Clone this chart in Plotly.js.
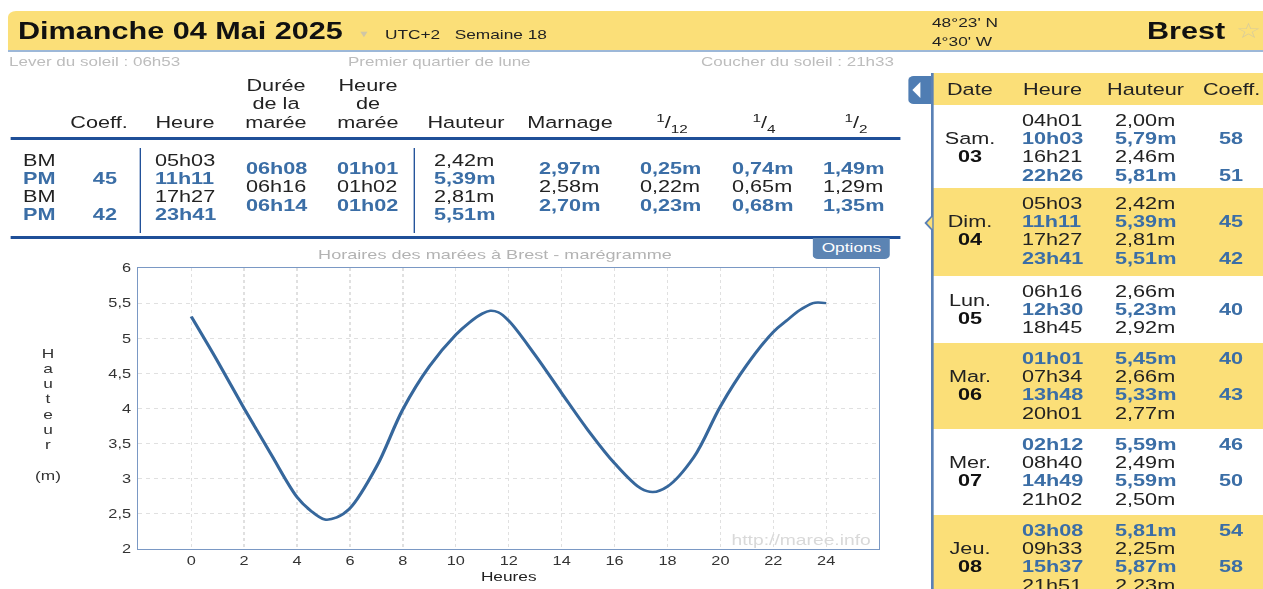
<!DOCTYPE html>
<html><head><meta charset="utf-8">
<script src="https://cdn.plot.ly/plotly-3.0.1.min.js"></script>
<style>
html,body{margin:0;padding:0;background:#fff;width:1263px;height:589px;overflow:hidden;font-family:"Liberation Sans",Arial,sans-serif;color:#222;}
#wrap{position:absolute;left:0;top:0;height:589px;transform-origin:0 0;overflow:visible;}
.a{position:absolute;white-space:nowrap;}
</style></head>
<body>
<div id="wrap"><div id="page"></div><div id="chart" style="position:absolute;top:240px;height:349px;"></div><div id="over"></div></div>
<script>
// ---------- DATA ----------
const tideHours   = [0, 1, 2, 3, 4, 4.5, 5.05, 5.5, 6, 7, 8, 9, 10, 10.5, 11, 11.3, 11.6, 12, 13, 14, 15, 16, 17, 17.45, 18, 19, 20, 21, 22, 22.5, 23, 23.5, 23.68, 24];
const tideHeights = [5.31, 4.67, 4.00, 3.36, 2.74, 2.55, 2.42, 2.45, 2.58, 3.17, 3.99, 4.60, 5.05, 5.22, 5.35, 5.39, 5.37, 5.25, 4.76, 4.22, 3.69, 3.22, 2.86, 2.81, 2.89, 3.31, 4.03, 4.62, 5.09, 5.25, 5.40, 5.50, 5.51, 5.50];
const xTicks = [0, 2, 4, 6, 8, 10, 12, 14, 16, 18, 20, 22, 24];
const yTitleLetters = ['H', 'a', 'u', 't', 'e', 'u', 'r', '', '(m)'];

const tideType   = ['BM', 'PM', 'BM', 'PM'];
const tideCoeff  = ['', '45', '', '42'];
const tideTime   = ['05h03', '11h11', '17h27', '23h41'];
const tideHeight = ['2,42m', '5,39m', '2,81m', '5,51m'];
const durations  = ['06h08', '06h16', '06h14'];
const heureMaree = ['01h01', '01h02', '01h02'];
const marnage    = ['2,97m', '2,58m', '2,70m'];
const twelfth    = ['0,25m', '0,22m', '0,23m'];
const quarter    = ['0,74m', '0,65m', '0,68m'];
const half       = ['1,49m', '1,29m', '1,35m'];

const sideDays    = ['Sam.', 'Dim.', 'Lun.', 'Mar.', 'Mer.', 'Jeu.'];
const sideDates   = ['03', '04', '05', '06', '07', '08'];
const sideTimes   = [['04h01','10h03','16h21','22h26'], ['05h03','11h11','17h27','23h41'], ['06h16','12h30','18h45'], ['01h01','07h34','13h48','20h01'], ['02h12','08h40','14h49','21h02'], ['03h08','09h33','15h37','21h51']];
const sideHeights = [['2,00m','5,79m','2,46m','5,81m'], ['2,42m','5,39m','2,81m','5,51m'], ['2,66m','5,23m','2,92m'], ['5,45m','2,66m','5,33m','2,77m'], ['5,59m','2,49m','5,59m','2,50m'], ['5,81m','2,25m','5,87m','2,23m']];
const sideCoeffs  = [['','58','','51'], ['','45','','42'], ['','40',''], ['40','','43',''], ['46','','50',''], ['54','','58','']];
const sideHigh    = [[0,1,0,1], [0,1,0,1], [0,1,0], [1,0,1,0], [1,0,1,0], [1,0,1,0]];

// ---------- LAYOUT HELPERS (the reference is horizontally stretched) ----------
const S = 1.33;
const W = document.getElementById('wrap');
W.style.width = (1263 / S) + 'px';
W.style.transform = 'scaleX(' + S + ')';
const P = document.getElementById('page');
const O = document.getElementById('over');
function box(x, y, w, h, css, html, target){
  let s = '<div class="a" style="left:' + (x / S) + 'px;top:' + y + 'px;';
  if (w !== null) s += 'width:' + (w / S) + 'px;';
  if (h !== null) s += 'height:' + h + 'px;';
  s += (css || '') + '">' + (html || '') + '</div>';
  (target || P).insertAdjacentHTML('beforeend', s);
}
function txt(x, cy, fs, html, css, w, align, target){
  const lh = Math.round(fs * 1.15);
  const top = cy - 0.57 * fs - (lh - fs * 1.15) / 2;
  box(x, top, w === undefined ? null : w, null,
      'font-size:' + fs + 'px;line-height:' + lh + 'px;' + (align ? 'text-align:' + align + ';' : '') + (css || ''), html, target);
}
function column(arr, isBlue, x, cy0, step, fs, w, align){
  arr.forEach((v, i) => {
    if (v === '') return;
    txt(x, cy0 + i * step, fs, v, isBlue(i) ? 'color:#3b6ea6;font-weight:bold;' : 'color:#222;', w, align);
  });
}

// ---------- HEADER ----------
box(8, 11, 1255, 39, 'background:#fbdf78;border-radius:6px 0 0 0;border-bottom:2px solid #9db8d8;');
txt(18, 31, 23, 'Dimanche 04 Mai 2025', 'font-weight:bold;color:#111;');
txt(358, 34, 9, '&#9660;', 'color:#cfc6a6;');
txt(385, 34, 13, 'UTC+2&nbsp;&nbsp;&nbsp;Semaine 18', 'color:#222;');
txt(932, 22, 13, '48°23\' N', 'color:#222;');
txt(932, 41, 13, '4°30\' W', 'color:#222;');
txt(1147, 31, 23, 'Brest', 'font-weight:bold;color:#111;');
txt(1236, 31, 21, '&#9734;', 'color:#d8cc9a;font-family:\'DejaVu Sans\';');

txt(9, 61, 12.8, 'Lever du soleil : 06h53', 'color:#bdbdbd;');
txt(348, 61, 12.8, 'Premier quartier de lune', 'color:#bdbdbd;');
txt(701, 61, 12.8, 'Coucher du soleil : 21h33', 'color:#bdbdbd;');

// ---------- MAIN TABLE ----------
const FS = 16.3;
txt(60, 122, FS, 'Coeff.', '', 78, 'center');
txt(145, 122, FS, 'Heure', '', 80, 'center');
['Durée', 'de la', 'marée'].forEach((t, i) => txt(236, 85 + i * 18.5, FS, t, '', 80, 'center'));
['Heure', 'de', 'marée'].forEach((t, i) => txt(328, 85 + i * 18.5, FS, t, '', 80, 'center'));
txt(422, 122, FS, 'Hauteur', '', 88, 'center');
txt(526, 122, FS, 'Marnage', '', 88, 'center');
txt(642, 118, FS, '<sup style="font-size:11.5px;">1</sup>/<sub style="font-size:11.5px;">12</sub>', '', 60, 'center');
txt(744, 118, FS, '<sup style="font-size:11.5px;">1</sup>/<sub style="font-size:11.5px;">4</sub>', '', 40, 'center');
txt(836, 118, FS, '<sup style="font-size:11.5px;">1</sup>/<sub style="font-size:11.5px;">2</sub>', '', 40, 'center');

box(10, 137, 891, 3, 'background:#1f4f98;');
box(10, 236, 891, 3, 'background:#1f4f98;');
box(139, 148, 1, 85, 'background:#1f4f98;');
box(414, 148, 1, 85, 'background:#1f4f98;');

const isPM = i => tideType[i] === 'PM';
const isEven = i => i % 2 === 0;
column(tideType, isPM, 23, 160, 18, FS);
column(tideCoeff, isPM, 70, 160, 18, FS, 47, 'right');
column(tideTime, isPM, 155, 160, 18, FS);
column(tideHeight, isPM, 434, 160, 18, FS);
column(durations, isEven, 246, 168, 18.5, FS);
column(heureMaree, isEven, 337, 168, 18.5, FS);
column(marnage, isEven, 539, 168, 18.5, FS);
column(twelfth, isEven, 640, 168, 18.5, FS);
column(quarter, isEven, 732, 168, 18.5, FS);
column(half, isEven, 823, 168, 18.5, FS);

// ---------- SIDE PANEL ----------
box(908, 76, 24, 28, 'background:#4f7db3;border-radius:4px 0 0 4px;');
box(913, 82, null, null, 'width:0;height:0;border-top:8px solid transparent;border-bottom:8px solid transparent;border-right:' + (9 / S) + 'px solid #fff;');
box(932, 73, 331, 32, 'background:#fbdf78;');
txt(947, 89, FS, 'Date');
txt(1023, 89, FS, 'Heure');
txt(1107, 89, FS, 'Hauteur');
txt(1203, 89, FS, 'Coeff.');

const blockTops = [105, 188, 276, 343, 429, 515];
const blockBottoms = [188, 276, 343, 429, 515, 600];
sideDays.forEach((d, k) => {
  const top = blockTops[k], h = blockBottoms[k] - top;
  box(932, top, 331, h, 'background:' + (k % 2 === 1 ? '#fbdf78' : '#fff') + ';');
  const n = sideTimes[k].length;
  const cy0 = top + 15.5;
  const dcy = cy0 + (n - 2) / 2 * 18.2;
  txt(935, dcy, FS, d, 'color:#222;', 70, 'center');
  txt(935, dcy + 18.2, FS, '<b>' + sideDates[k] + '</b>', 'color:#111;', 70, 'center');
  const hi = i => sideHigh[k][i] === 1;
  column(sideTimes[k], hi, 1022, cy0, 18.2, FS);
  column(sideHeights[k], hi, 1115, cy0, 18.2, FS);
  column(sideCoeffs[k], hi, 1193, cy0, 18.2, FS, 50, 'right');
});
box(931, 73, 2, 516, 'background:#5a81b6;');
box(925, 216, null, null, 'width:0;height:0;border-top:7px solid transparent;border-bottom:7px solid transparent;border-right:' + (7 / S) + 'px solid #5a81b6;');
box(927.5, 217, null, null, 'width:0;height:0;border-top:6px solid transparent;border-bottom:6px solid transparent;border-right:' + (6 / S) + 'px solid #fbdf78;');

// ---------- OVERLAYS ON CHART (drawn above it) ----------
box(813, 238, 77, 21, 'background:#5c84b3;border-radius:0 0 4px 4px;color:#fff;font-size:13px;line-height:20px;text-align:center;', 'Options', O);
yTitleLetters.forEach((t, i) => { if (t) txt(28, 353 + i * 15.3, 13, t, 'color:#333;', 40, 'center', O); });

// ---------- CHART ----------
const CW = 910 / S;
const chartDiv = document.getElementById('chart');
chartDiv.style.left = '0px';
chartDiv.style.width = CW + 'px';

const trace = {
  x: tideHours, y: tideHeights, type: 'scatter', mode: 'lines',
  line: {color: '#36679c', width: 2.5, shape: 'spline', smoothing: 1},
  hoverinfo: 'skip'
};
const layout = {
  width: CW, height: 349,
  margin: {l: 138 / S, r: 31 / S, t: 28, b: 40, pad: 0},
  paper_bgcolor: 'rgba(0,0,0,0)', plot_bgcolor: '#fff',
  separators: ', ',
  showlegend: false,
  font: {family: '"Liberation Sans", Arial, sans-serif', color: '#333'},
  title: {text: 'Horaires des marées à Brest - marégramme', xref: 'container', x: 495 / 910, xanchor: 'center',
          yref: 'container', y: 1 - 14 / 349, yanchor: 'middle', font: {size: 13.6, color: '#b3b3b3'}},
  xaxis: {range: [-2, 26], tickvals: xTicks, ticktext: xTicks.map(String), showgrid: true, gridcolor: '#e0e0e0', griddash: 'dot',
          zeroline: false, showline: true, mirror: true, linecolor: '#7a98c4', linewidth: 1, ticks: '',
          tickfont: {size: 12.3, color: '#333'}, fixedrange: true,
          title: {text: 'Heures', font: {size: 13, color: '#222'}, standoff: 5}},
  yaxis: {range: [2, 6], dtick: 0.5, tick0: 2, showgrid: true, gridcolor: '#e0e0e0', griddash: 'dot',
          zeroline: false, showline: true, mirror: true, linecolor: '#7a98c4', linewidth: 1, ticks: '',
          ticklabelstandoff: 2, tickfont: {size: 12.3, color: '#333'}, fixedrange: true},
  annotations: [
    {text: 'http://maree.info', xref: 'paper', yref: 'paper', x: 1, y: 0, xanchor: 'right', yanchor: 'bottom',
     xshift: -4, yshift: -1, showarrow: false, font: {size: 14.5, color: '#d9d9d9'}}
  ]
};
Plotly.newPlot('chart', [trace], layout, {displayModeBar: false, staticPlot: true});
</script>
</body></html>
